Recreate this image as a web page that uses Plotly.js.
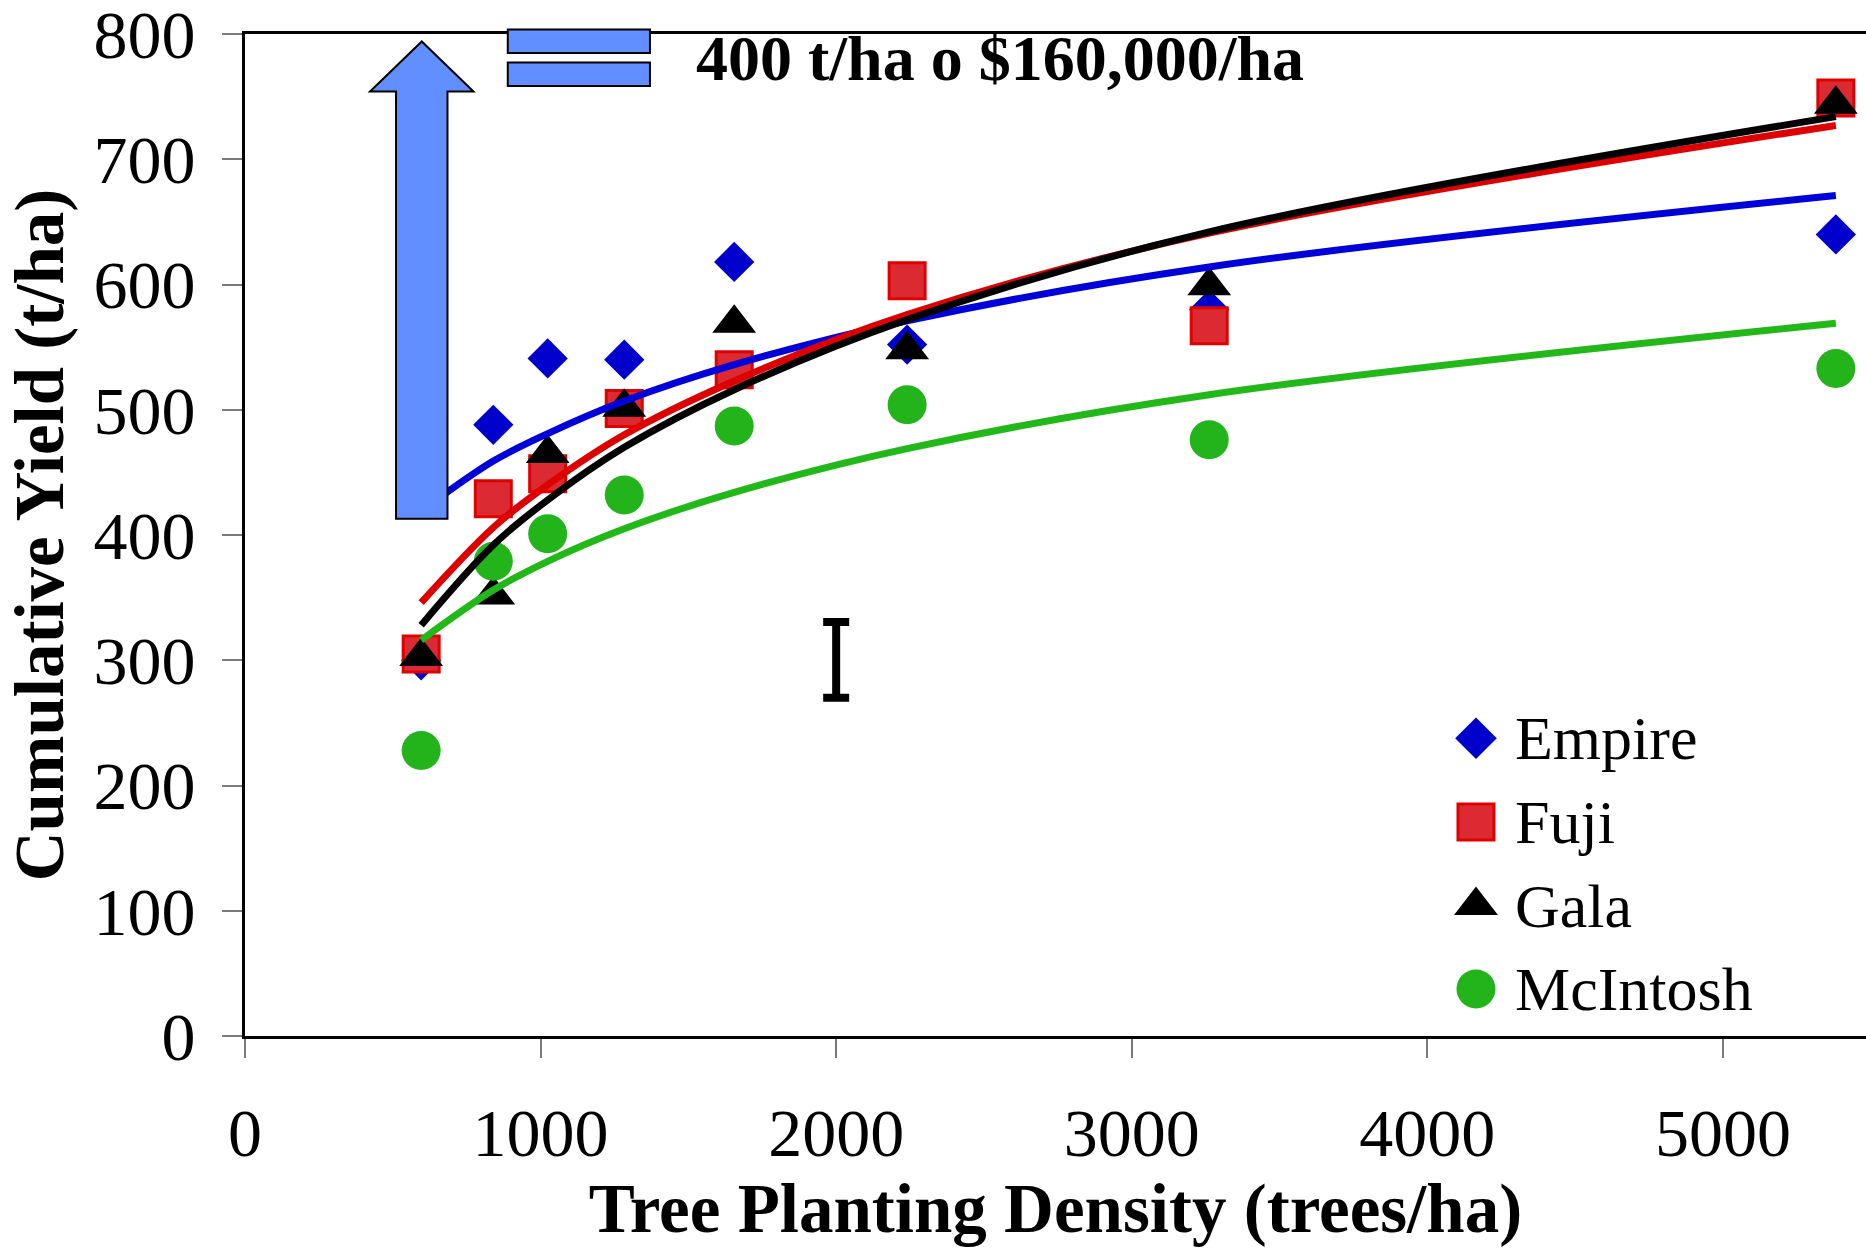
<!DOCTYPE html>
<html>
<head>
<meta charset="utf-8">
<script src="https://cdn.plot.ly/plotly-3.0.1.min.js"></script>
<style>
  html, body { margin: 0; padding: 0; background: #fff; }
  #chart { width: 1866px; height: 1248px; }
</style>
</head>
<body>
<div id="chart"></div>
<script>
// Planting densities (trees/ha) and cumulative yields (t/ha) per cultivar
const density  = [596, 840, 1024, 1283, 1655, 2240, 3262, 5382];
const empire   = [300, 488, 541, 540, 618, 552, 580, 640];
const fuji     = [305, 429, 449, 501, 532, 603, 567, 749];
const gala     = [303, 352, 465, 502, 569, 548, 599, 744];
const mcintosh = [228, 379, 401, 432, 487, 504, 476, 533];

// Logarithmic trend lines, read at the same densities
const empireTrend   = [419, 459, 481, 507, 536, 571, 614, 671];
const fujiTrend     = [346, 406, 440, 480, 523, 576, 641, 727];
const galaTrend     = [328, 392, 428, 470, 516, 572, 642, 734];
const mcintoshTrend = [316, 356, 379, 405, 434, 469, 512, 569];

const cultivars = ['Empire', 'Fuji', 'Gala', 'McIntosh'];

// Least significant difference bar
const lsdX = [2000];
const lsdY = [300.3];
const lsdHalf = [30.2];

// Axis ticks
const xTicks = [0, 1000, 2000, 3000, 4000, 5000];
const yTicks = [0, 100, 200, 300, 400, 500, 600, 700, 800];

const noteText = '400 t/ha o $160,000/ha';

// ---- styling ----
const FONT = 'Liberation Serif, Times New Roman, serif';
const X_RANGE = [0, 5484];
const Y_RANGE = [0, 800];
const ARROW_FILL = '#618fff';

const styles = {
  Empire:   { symbol: 'diamond',     size: 31, color: '#0000cc', line: { width: 0 },                    trend: '#0000d8' },
  Fuji:     { symbol: 'square',      size: 36, color: '#dc2a32', line: { width: 3, color: '#e00000' }, trend: '#dd0000' },
  Gala:     { symbol: 'triangle-up', size: 38, color: '#000000', line: { width: 0 },                    trend: '#000000' },
  McIntosh: { symbol: 'circle',      size: 39, color: '#22b41a', line: { width: 0 },                    trend: '#22b81a' }
};

const series = { Empire: empire, Fuji: fuji, Gala: gala, McIntosh: mcintosh };
const trends = { Empire: empireTrend, Fuji: fujiTrend, Gala: galaTrend, McIntosh: mcintoshTrend };

const traces = [];

// observed yields
cultivars.forEach(name => {
  const s = styles[name];
  traces.push({
    type: 'scatter', mode: 'markers', name: name,
    x: density, y: series[name],
    marker: { symbol: s.symbol, size: s.size, color: s.color, line: s.line },
    showlegend: false, hoverinfo: 'x+y+name'
  });
});

// trend lines drawn over the markers
cultivars.forEach(name => {
  traces.push({
    type: 'scatter', mode: 'lines', name: name + ' trend',
    x: density, y: trends[name],
    line: { color: styles[name].trend, width: 7, shape: 'spline', smoothing: 1 },
    showlegend: false, hoverinfo: 'skip'
  });
});

// LSD bar
traces.push({
  type: 'scatter', mode: 'markers', name: 'LSD',
  x: lsdX, y: lsdY,
  marker: { size: 1, opacity: 0 },
  error_y: { type: 'data', array: lsdHalf, symmetric: true, color: '#000', thickness: 8, width: 13 },
  showlegend: false, hoverinfo: 'skip'
});

// Legend: large symbols on an overlay in plot-fraction units
const legendX = 0.7594;
const legendRows = [0.2972, 0.2135, 0.1302, 0.0470];
const legendTextX = 0.7821;
cultivars.forEach((name, i) => {
  const s = styles[name];
  traces.push({
    type: 'scatter', mode: 'markers', xaxis: 'x2', yaxis: 'y2',
    x: [legendX], y: [legendRows[i]],
    marker: { symbol: s.symbol, size: s.symbol === 'diamond' ? 32 : s.size, color: s.color, line: s.line },
    showlegend: false, hoverinfo: 'skip'
  });
});

// Up arrow at the lowest density and the "=" sign
const arrow = { x: 598, base: 413, headBase: 754, tip: 794, shaftHalf: 87, headHalf: 175 };
const arrowPath =
  'M' + (arrow.x - arrow.shaftHalf) + ',' + arrow.base +
  ' L' + (arrow.x - arrow.shaftHalf) + ',' + arrow.headBase +
  ' L' + (arrow.x - arrow.headHalf) + ',' + arrow.headBase +
  ' L' + arrow.x + ',' + arrow.tip +
  ' L' + (arrow.x + arrow.headHalf) + ',' + arrow.headBase +
  ' L' + (arrow.x + arrow.shaftHalf) + ',' + arrow.headBase +
  ' L' + (arrow.x + arrow.shaftHalf) + ',' + arrow.base + ' Z';

const eqBars = [
  { x0: 889, x1: 1370, y0: 784.9, y1: 803.6 },
  { x0: 889, x1: 1370, y0: 758.5, y1: 777.2 }
];

const shapes = [
  { type: 'path', xref: 'x', yref: 'y', path: arrowPath, layer: 'above',
    fillcolor: ARROW_FILL, line: { color: '#000', width: 2 } }
].concat(eqBars.map(b => ({
  type: 'rect', xref: 'x', yref: 'paper', layer: 'above',
  x0: b.x0, x1: b.x1, y0: b.y0 / Y_RANGE[1], y1: b.y1 / Y_RANGE[1],
  fillcolor: ARROW_FILL, line: { color: '#000', width: 2 }
})));

const annotations = [
  { xref: 'x', yref: 'paper', x: 1519, y: 780.4 / Y_RANGE[1], xanchor: 'left', yanchor: 'middle',
    text: noteText, showarrow: false,
    font: { family: FONT, size: 64, color: '#000', weight: 'bold' } }
].concat(cultivars.map((name, i) => ({
  xref: 'paper', yref: 'paper', x: legendTextX, y: legendRows[i],
  xanchor: 'left', yanchor: 'middle', text: name, showarrow: false,
  font: { family: FONT, size: 62, color: '#000' }
})));

const layout = {
  width: 1866, height: 1248,
  margin: { l: 245, r: 0, t: 34, b: 212, pad: 0 },
  paper_bgcolor: '#fff', plot_bgcolor: '#fff',
  showlegend: false,
  font: { family: FONT, color: '#000' },
  xaxis: {
    range: X_RANGE, tickmode: 'array', tickvals: xTicks,
    ticks: 'outside', ticklen: 19, tickwidth: 2, tickcolor: '#7a7a7a',
    showline: true, linecolor: '#000', linewidth: 3, mirror: true,
    showgrid: false, zeroline: false,
    tickfont: { family: FONT, size: 68, color: '#000' },
    ticklabelstandoff: 16, ticklabeloverflow: 'allow',
    title: { text: 'Tree Planting Density (trees/ha)', standoff: 8,
      font: { family: FONT, size: 69, color: '#000', weight: 'bold' } },
    automargin: false
  },
  yaxis: {
    range: Y_RANGE, tickmode: 'array', tickvals: yTicks,
    ticks: 'outside', ticklen: 20, tickwidth: 2, tickcolor: '#7a7a7a',
    showline: true, linecolor: '#000', linewidth: 3, mirror: false,
    showgrid: false, zeroline: false,
    tickfont: { family: FONT, size: 68, color: '#000' },
    ticklabelstandoff: 13, ticklabeloverflow: 'allow',
    title: { text: 'Cumulative Yield (t/ha)', standoff: 8,
      font: { family: FONT, size: 69, color: '#000', weight: 'bold' } },
    automargin: false
  },
  xaxis2: { overlaying: 'x', range: [0, 1], visible: false, fixedrange: true },
  yaxis2: { overlaying: 'y', range: [0, 1], visible: false, fixedrange: true },
  shapes: shapes,
  annotations: annotations
};

Plotly.newPlot('chart', traces, layout, { displayModeBar: false, staticPlot: true });
</script>
</body>
</html>
